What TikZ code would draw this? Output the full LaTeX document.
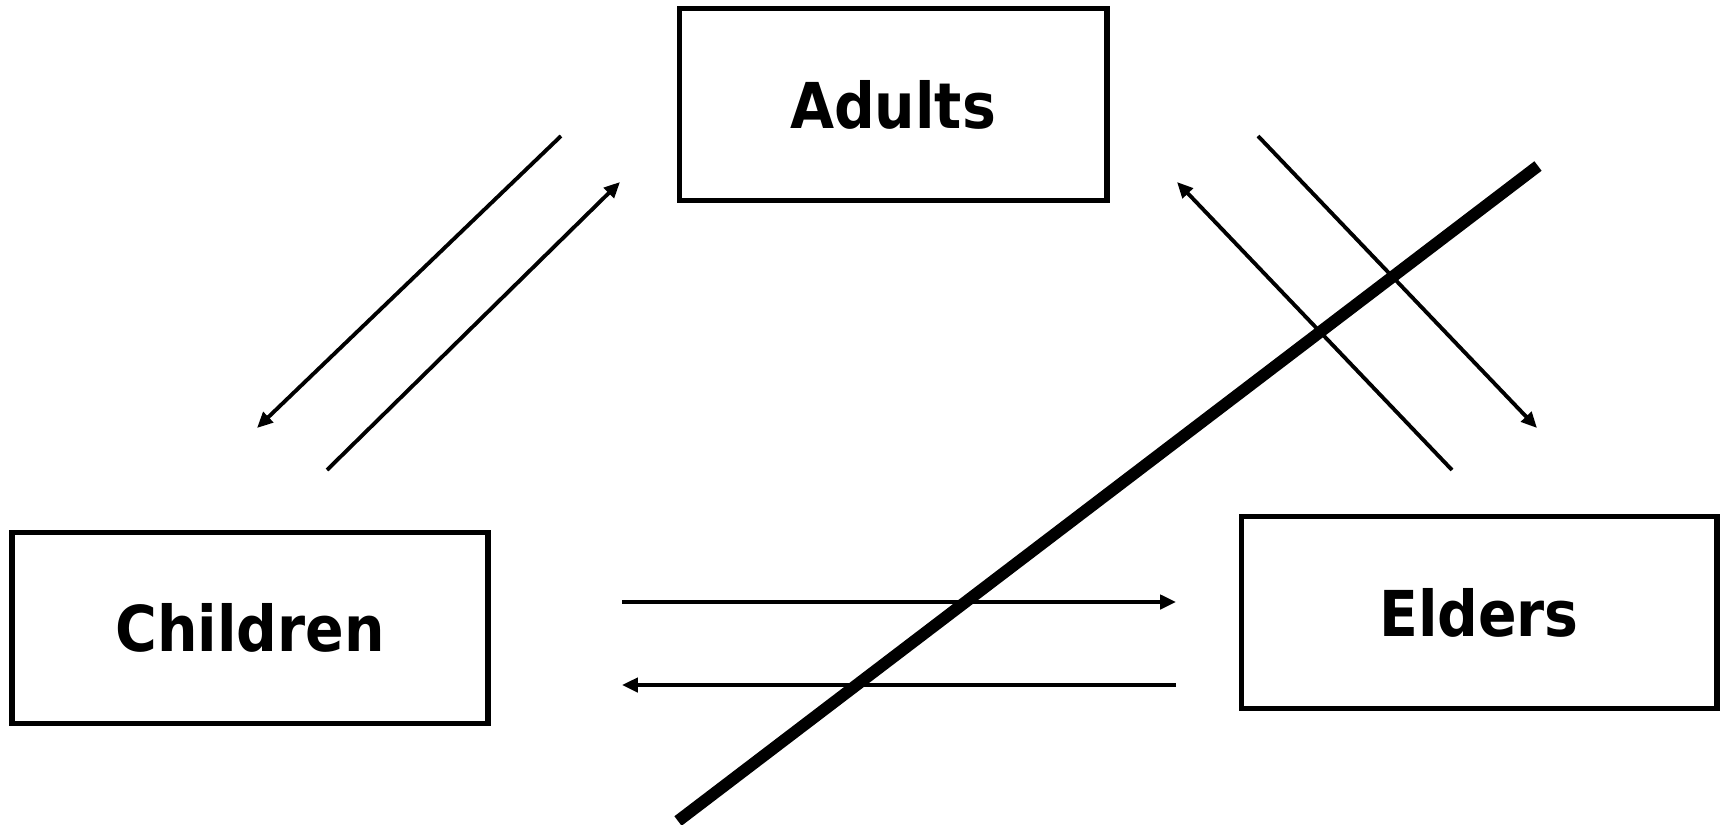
\documentclass[tikz,border=0pt]{standalone}
\usepackage{fontspec}
\newfontfamily\boxfont{DejaVu Sans Condensed}
\usetikzlibrary{arrows.meta, positioning}

\tikzset{
  group/.style={draw, line width=2.9pt, minimum width=9.52cm, minimum height=3.83cm, font=\boxfont\bfseries\fontsize{36}{40}\selectfont},
  flow/.style={line width=2.2pt, -{Triangle[length=9pt, width=8pt]}},
  cross/.style={line width=6.8pt}
}

\begin{document}
\begin{tikzpicture}[x=0.02cm, y=-0.02cm]
  \useasboundingbox (0,0) rectangle (1725,825);

  % Groups
  \node[group, minimum width=8.56cm] (adults) at (893,104.5) {Adults};
  \node[group] (children) at (250,628) {Children};
  \node[group] (elders) at (1479,612.5) {Elders};

  % Arrow end points
  \coordinate (ac1) at (561,136);
  \coordinate (ac2) at (257,428);
  \coordinate (ca1) at (327,470);
  \coordinate (ca2) at (620,182);
  \coordinate (ae1) at (1258,136);
  \coordinate (ae2) at (1537,428);
  \coordinate (ea1) at (1452,470);
  \coordinate (ea2) at (1177,182);
  \coordinate (ce1) at (622,602);
  \coordinate (ce2) at (1176,602);
  \coordinate (ec1) at (1176,685);
  \coordinate (ec2) at (622,685);

  % Flows between groups
  \draw[flow] (ac1) -- (ac2);
  \draw[flow] (ca1) -- (ca2);
  \draw[flow] (ae1) -- (ae2);
  \draw[flow] (ea1) -- (ea2);
  \draw[flow] (ce1) -- (ce2);
  \draw[flow] (ec1) -- (ec2);

  % Crossed out
  \coordinate (x1) at (678,821);
  \coordinate (x2) at (1538,166);
  \draw[cross] (x1) -- (x2);
\end{tikzpicture}
\end{document}
